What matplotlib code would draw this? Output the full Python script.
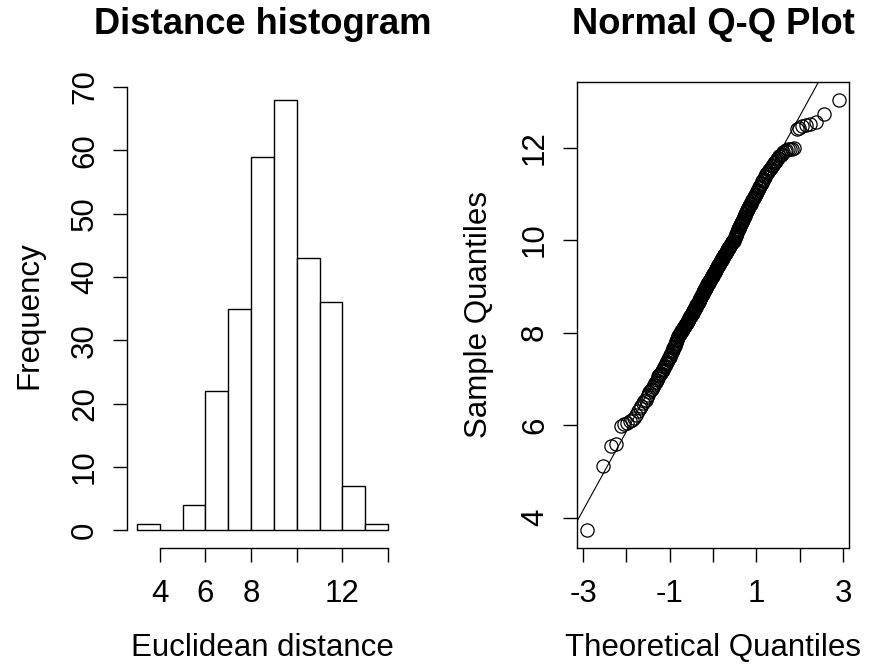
import statistics

import numpy as np
import matplotlib
matplotlib.use("Agg")
import matplotlib.pyplot as plt

# --- data: sorted euclidean distances, grouped by unit bin ---
bin_3_4 = [3.72]
bin_5_6 = [5.11, 5.54, 5.58, 5.97]
bin_6_7 = [6.02, 6.05, 6.08, 6.11, 6.15, 6.22, 6.30, 6.36, 6.42, 6.47,
           6.51, 6.55, 6.60, 6.66, 6.72, 6.76, 6.79, 6.82, 6.86, 6.90,
           6.94, 6.98]
bin_7_8 = [7.02, 7.05, 7.08, 7.10, 7.13, 7.16, 7.19, 7.22, 7.25, 7.28,
           7.31, 7.34, 7.37, 7.40, 7.43, 7.46, 7.48, 7.51, 7.54, 7.57,
           7.60, 7.63, 7.66, 7.69, 7.72, 7.75, 7.78, 7.81, 7.84, 7.87,
           7.90, 7.92, 7.95, 7.97, 7.99]
bin_8_9 = [8.01, 8.03, 8.04, 8.06, 8.08, 8.09, 8.11, 8.13, 8.14, 8.16,
           8.18, 8.19, 8.21, 8.23, 8.25, 8.26, 8.28, 8.30, 8.31, 8.33,
           8.35, 8.36, 8.38, 8.40, 8.42, 8.43, 8.45, 8.47, 8.48, 8.50,
           8.52, 8.54, 8.55, 8.57, 8.59, 8.60, 8.62, 8.64, 8.65, 8.67,
           8.69, 8.71, 8.72, 8.74, 8.76, 8.77, 8.79, 8.81, 8.82, 8.84,
           8.86, 8.88, 8.89, 8.91, 8.93, 8.94, 8.96, 8.97, 8.99]
bin_9_10 = [9.01, 9.02, 9.04, 9.05, 9.07, 9.08, 9.10, 9.11, 9.13, 9.14,
            9.16, 9.17, 9.19, 9.20, 9.22, 9.23, 9.25, 9.26, 9.28, 9.29,
            9.31, 9.32, 9.34, 9.35, 9.37, 9.38, 9.40, 9.41, 9.43, 9.44,
            9.46, 9.47, 9.49, 9.50, 9.52, 9.53, 9.55, 9.56, 9.58, 9.59,
            9.61, 9.62, 9.64, 9.65, 9.67, 9.68, 9.70, 9.71, 9.73, 9.74,
            9.76, 9.77, 9.79, 9.80, 9.82, 9.83, 9.85, 9.86, 9.88, 9.89,
            9.91, 9.92, 9.94, 9.95, 9.96, 9.97, 9.98, 9.99]
bin_10_11 = [10.02, 10.04, 10.07, 10.09, 10.11, 10.14, 10.16, 10.18, 10.21, 10.23,
             10.25, 10.28, 10.30, 10.32, 10.35, 10.37, 10.39, 10.42, 10.44, 10.46,
             10.49, 10.51, 10.53, 10.56, 10.58, 10.60, 10.63, 10.65, 10.67, 10.70,
             10.72, 10.74, 10.77, 10.79, 10.81, 10.84, 10.86, 10.88, 10.91, 10.93,
             10.95, 10.97, 10.99]
bin_11_12 = [11.03, 11.06, 11.09, 11.12, 11.15, 11.18, 11.21, 11.24, 11.27, 11.30,
             11.33, 11.36, 11.39, 11.42, 11.45, 11.48, 11.51, 11.54, 11.57, 11.60,
             11.63, 11.66, 11.69, 11.72, 11.75, 11.78, 11.81, 11.84, 11.87, 11.90,
             11.92, 11.94, 11.96, 11.97, 11.98, 11.99]
bin_12_13 = [12.40, 12.43, 12.46, 12.48, 12.51, 12.56, 12.73]
bin_13_14 = [13.04]

breaks = [3, 4, 5, 6, 7, 8, 9, 10, 11, 12, 13, 14]
hist_xticks = [4, 6, 8, 10, 12, 14]
hist_xticklabels = ["4", "6", "8", "", "12", ""]
hist_yticks = [0, 10, 20, 30, 40, 50, 60, 70]
qq_xticks = [-3, -2, -1, 0, 1, 2, 3]
qq_xticklabels = ["-3", "", "-1", "", "1", "", "3"]
qq_yticks = [4, 6, 8, 10, 12]

distances = np.array(bin_3_4 + bin_5_6 + bin_6_7 + bin_7_8 + bin_8_9
                     + bin_9_10 + bin_10_11 + bin_11_12 + bin_12_13 + bin_13_14)

plt.rcParams['font.family'] = ['Liberation Sans', 'DejaVu Sans']
BASE = 22.5
TITLE = 26.2
TICK_LEN = 10


def r_range(lo, hi):
    """R-style 4% axis extension."""
    pad = 0.04 * (hi - lo)
    return lo - pad, hi + pad


fig = plt.figure(figsize=(8.7, 6.7), dpi=100)
W, H = 870, 670


def px_axes(x0, y0, x1, y1):
    return fig.add_axes([x0 / W, 1 - y1 / H, (x1 - x0) / W, (y1 - y0) / H])


# --- left: histogram ---
ax1 = px_axes(127, 82.3, 398, 547.7)
counts, _, _ = ax1.hist(distances, bins=breaks, facecolor="white",
                        edgecolor="black", linewidth=1.0)
ax1.set_xlim(*r_range(breaks[0], breaks[-1]))
ax1.set_ylim(*r_range(0, counts.max()))
for side in ("top", "right"):
    ax1.spines[side].set_visible(False)
ax1.spines["left"].set_bounds(hist_yticks[0], hist_yticks[-1])
ax1.spines["bottom"].set_bounds(hist_xticks[0], hist_xticks[-1])
ax1.set_xticks(hist_xticks)
ax1.set_xticklabels(hist_xticklabels)
ax1.set_yticks(hist_yticks)

# --- right: normal Q-Q plot ---
ax2 = px_axes(577, 82.3, 849.3, 547.7)
n = len(distances)
nd = statistics.NormalDist()
theo = np.array([nd.inv_cdf((i - 0.5) / n) for i in range(1, n + 1)])
sample = np.sort(distances)
ax2.plot(theo, sample, linestyle="none", marker="o", markersize=9.5,
         markerfacecolor="none", markeredgecolor="black", markeredgewidth=0.9)
q_y = np.quantile(sample, [0.25, 0.75])
q_x = np.array([nd.inv_cdf(0.25), nd.inv_cdf(0.75)])
slope = (q_y[1] - q_y[0]) / (q_x[1] - q_x[0])
intercept = q_y[0] - slope * q_x[0]
ax2.axline((0, intercept), slope=slope, color="black", linewidth=0.8)
ax2.set_xlim(*r_range(theo.min(), theo.max()))
ax2.set_ylim(*r_range(sample.min(), sample.max()))
ax2.set_xticks(qq_xticks)
ax2.set_xticklabels(qq_xticklabels)
ax2.set_yticks(qq_yticks)

for ax in (ax1, ax2):
    for sp in ax.spines.values():
        sp.set_linewidth(1.0)
    ax.tick_params(direction="out", length=TICK_LEN, width=1.0, labelsize=BASE,
                   top=False, right=False)
    ax.tick_params(axis="x", pad=12.5)
    ax.tick_params(axis="y", labelrotation=90, pad=9.5)
    for lbl in ax.get_yticklabels():
        lbl.set_verticalalignment("center")

ax1.text(0.5, 1.125, "Distance histogram", transform=ax1.transAxes,
         ha="center", va="center", fontsize=TITLE, fontweight="bold")
ax1.text(0.5, -0.2155, "Euclidean distance", transform=ax1.transAxes,
         ha="center", va="center", fontsize=BASE)
ax1.text(-0.362, 0.5, "Frequency", transform=ax1.transAxes, rotation=90,
         ha="center", va="center", fontsize=BASE)

ax2.text(0.5, 1.125, "Normal Q-Q Plot", transform=ax2.transAxes,
         ha="center", va="center", fontsize=TITLE, fontweight="bold")
ax2.text(0.5, -0.2155, "Theoretical Quantiles", transform=ax2.transAxes,
         ha="center", va="center", fontsize=BASE)
ax2.text(-0.36, 0.5, "Sample Quantiles", transform=ax2.transAxes, rotation=90,
         ha="center", va="center", fontsize=BASE)

fig.savefig("out.png", dpi=100)
